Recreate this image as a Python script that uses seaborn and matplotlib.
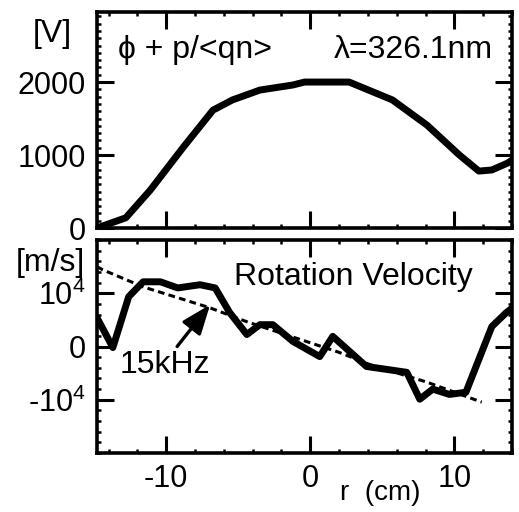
import numpy as np
import pandas as pd
import seaborn as sns
import matplotlib
matplotlib.use("Agg")
import matplotlib.pyplot as plt
from matplotlib.ticker import MultipleLocator

# ---- data ----
r_pot = [-14.8, -12.8, -11.1, -8.8, -6.75, -5.4, -3.5, -1.2, -0.4, 2.7, 5.7, 8.1, 10.35, 11.7, 12.6, 13.7, 14.0]
pot = [0, 140, 520, 1110, 1615, 1755, 1890, 1960, 2000, 2000, 1755, 1410, 1000, 780, 795, 890, 930]

r_vel = [-14.8, -13.7, -12.6, -11.6, -10.4, -9.2, -7.65, -6.6, -5.6, -4.4, -3.5, -2.6, -1.2,
         0.66, 1.56, 3.9, 6.7, 7.6, 8.5, 9.65, 10.8, 12.6, 13.6, 14.0]
vel = [5400, -200, 9350, 12150, 12150, 11000, 11600, 11000, 6400, 2250, 4100, 4100, 950,
       -1900, 1900, -3750, -4850, -9900, -8000, -9000, -8600, 3750, 6350, 7200]

r_fit = [-14.8, -14.4, -11.6, -7.0, -4.4, 2.0, 4.1, 8.1, 11.9]
vel_fit = [15000, 14400, 11200, 7300, 4650, -1100, -3350, -6700, -10450]

x_ticks = [-10, 0, 10]
x_tick_labels = ["-10", "0", "10"]
pot_ticks = [0, 1000, 2000]
pot_tick_labels = ["0", "1000", "2000"]
vel_ticks = [-10000, 0, 10000]
vel_tick_labels = ["-10$^4$", "0", "10$^4$"]

df_pot = pd.DataFrame({"r": r_pot, "v": pot})
df_vel = pd.DataFrame({"r": r_vel, "v": vel})
df_fit = pd.DataFrame({"r": r_fit, "v": vel_fit})

sns.set_style("ticks")
plt.rcParams["font.family"] = ["Liberation Sans", "DejaVu Sans"]
plt.rcParams["mathtext.default"] = "regular"
for k in ("text.color", "axes.labelcolor", "xtick.color", "ytick.color", "axes.edgecolor"):
    plt.rcParams[k] = "black"

fig = plt.figure(figsize=(5.19, 5.12), dpi=100)
ax1 = fig.add_axes([97/519, 1-228/512, 415/519, 216/512])
ax2 = fig.add_axes([97/519, 1-453/512, 415/519, 213/512])

sns.lineplot(data=df_pot, x="r", y="v", ax=ax1, color="black", linewidth=5, sort=False)
sns.lineplot(data=df_vel, x="r", y="v", ax=ax2, color="black", linewidth=5, sort=False)
sns.lineplot(data=df_fit, x="r", y="v", ax=ax2, color="black", linewidth=2.2, sort=False,
             linestyle=(0, (2.2, 1.4)))

FS = 22
FA = 23
for ax in (ax1, ax2):
    ax.set_xlim(-14.8, 14.0)
    ax.set_xticks(x_ticks)
    ax.xaxis.set_minor_locator(MultipleLocator(2))
    for s in ax.spines.values():
        s.set_linewidth(2.6)
        s.set_visible(True)
    ax.tick_params(which="major", direction="in", length=12, width=2.2,
                   top=True, right=True, labelsize=FS, pad=8)
    ax.tick_params(which="minor", direction="in", length=3, width=1.8,
                   top=True, right=True)
    ax.set_xlabel("")
    ax.set_ylabel("")

ax1.set_ylim(0, 2960)
ax1.set_yticks(pot_ticks)
ax1.set_yticklabels(pot_tick_labels)
ax1.yaxis.set_minor_locator(MultipleLocator(100))
ax1.set_xticklabels([])

ax2.set_ylim(-20000, 20000)
ax2.set_yticks(vel_ticks)
ax2.set_yticklabels(vel_tick_labels)
ax2.yaxis.set_minor_locator(MultipleLocator(2000))
ax2.set_xticklabels(x_tick_labels)
ax2.set_xlabel("r  (cm)", fontsize=20)
ax2.xaxis.set_label_coords(0.682, -0.125)

fig.text(52/519, 1-34/512, "[V]", fontsize=FA, ha="center", va="center")
fig.text(50/519, 1-263/512, "[m/s]", fontsize=FA, ha="center", va="center")

ax1.text(0.05, 0.824, "ϕ + p/<qn>", transform=ax1.transAxes, fontsize=FA,
         ha="left", va="center")
ax1.text(0.955, 0.824, "λ=326.1nm", transform=ax1.transAxes, fontsize=FA,
         ha="right", va="center")
ax2.text(0.905, 0.826, "Rotation Velocity", transform=ax2.transAxes, fontsize=FA,
         ha="right", va="center")
ax2.text(-10.1, -3550, "15kHz", fontsize=FA, ha="center", va="center")
ax2.annotate("", xy=(-6.95, 7850), xytext=(-9.24, 0),
             arrowprops=dict(arrowstyle="-|>,head_length=0.9,head_width=0.35",
                             color="black", lw=2.4, mutation_scale=20,
                             shrinkA=0, shrinkB=0))

fig.savefig("out.png", dpi=100)
